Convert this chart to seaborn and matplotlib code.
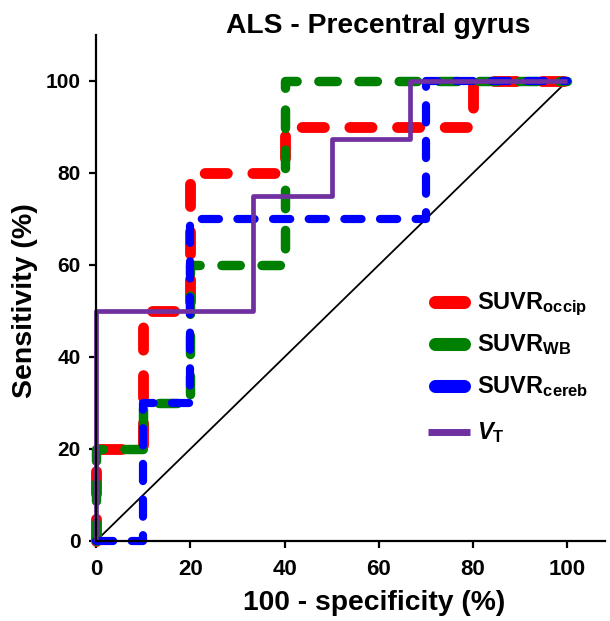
import matplotlib
matplotlib.use("Agg")
import matplotlib.pyplot as plt
import seaborn as sns
from matplotlib.lines import Line2D

# ---- data: ROC operating points (100 - specificity, sensitivity) ----
occip_fpr = [0, 0, 10, 20, 40, 80, 100]
occip_tpr = [0, 20, 50, 80, 90, 100, 100]
wb_fpr = [0, 0, 10, 20, 40, 100]
wb_tpr = [0, 20, 30, 60, 100, 100]
cereb_fpr = [0, 10, 20, 70, 100]
cereb_tpr = [0, 30, 70, 100, 100]
vt_fpr = [0, 0, 33.3, 50, 66.7, 100]
vt_tpr = [0, 50, 75, 87.5, 100, 100]
chance = [0, 100]
ticks = [0, 20, 40, 60, 80, 100]
labels = [r"SUVR$_{\rm occip}$", r"SUVR$_{\rm WB}$", r"SUVR$_{\rm cereb}$", r"$V_{\rm T}$"]
title = "ALS - Precentral gyrus"
xlabel = "100 - specificity (%)"
ylabel = "Sensitivity (%)"

sns.set_style("ticks")
plt.rcParams["font.family"] = ["Liberation Sans", "DejaVu Sans"]
plt.rcParams["font.weight"] = "bold"
plt.rcParams["mathtext.fontset"] = "custom"
plt.rcParams["mathtext.rm"] = "Liberation Sans:bold"
plt.rcParams["mathtext.bf"] = "Liberation Sans:bold"
plt.rcParams["mathtext.it"] = "Liberation Sans:bold:italic"
for k in ["text.color", "axes.labelcolor", "xtick.color", "ytick.color", "axes.edgecolor"]:
    plt.rcParams[k] = "black"

W, H = 610, 621
fig = plt.figure(figsize=(W / 100, H / 100), dpi=100)
ax = fig.add_axes([96 / W, 80 / H, (605 - 96) / W, (541 - 35) / H])

red, green, blue, purple = "#FF0000", "#008000", "#0000FF", "#7030A0"

sns.lineplot(x=chance, y=chance, color="black", lw=1.3, ax=ax, sort=False, estimator=None)

common = dict(ax=ax, sort=False, estimator=None, drawstyle="steps-post", clip_on=False)
sns.lineplot(x=occip_fpr, y=occip_tpr, color=red, lw=7.8, linestyle=(0, (2.05, 2.35)),
             dash_capstyle="round", **common)
sns.lineplot(x=wb_fpr, y=wb_tpr, color=green, lw=6.8, linestyle=(0, (1.95, 2.3)),
             dash_capstyle="round", **common)
sns.lineplot(x=cereb_fpr, y=cereb_tpr, color=blue, lw=5.9, linestyle=(0, (2.1, 2.25)),
             dash_capstyle="round", **common)
sns.lineplot(x=vt_fpr, y=vt_tpr, color=purple, lw=3.4, solid_capstyle="butt", **common)

ax.set_xlim(0, 108)
ax.set_ylim(0, 110)
ax.set_xticks(ticks)
ax.set_yticks(ticks)
for s in ["top", "right"]:
    ax.spines[s].set_visible(False)
for s in ["left", "bottom"]:
    ax.spines[s].set_linewidth(1.6)
ax.tick_params(axis="both", direction="out", length=5, width=1.6, color="black")
ax.tick_params(axis="x", labelsize=16, pad=8)
ax.tick_params(axis="y", labelsize=15, pad=6)
for t in ax.get_xticklabels() + ax.get_yticklabels():
    t.set_fontweight("bold")

fig.text(374 / W, 1 - 610 / H, xlabel, ha="center", va="baseline", fontsize=20.3, fontweight="bold")
fig.text(25 / W, 1 - 301 / H, ylabel, ha="center", va="center", rotation=90,
         fontsize=20.5, fontweight="bold")
fig.text(378 / W, 1 - 33 / H, title, ha="center", va="baseline", fontsize=20.3, fontweight="bold")

# ---- legend (solid swatches, as in the reference) ----
leg_colors = [red, green, blue, purple]
leg_rows = [302, 344, 386, 432]
leg_lw = [9.4, 9.4, 9.4, 5.0]
for lab, col, yy, lw in zip(labels, leg_colors, leg_rows, leg_lw):
    if lw > 6:
        x0, x1, cap = 428 + 6.5, 470 - 6.5, "round"
    else:
        x0, x1, cap = 428, 470, "butt"
    fig.add_artist(Line2D([x0 / W, x1 / W], [1 - yy / H, 1 - yy / H], color=col, lw=lw,
                          solid_capstyle=cap, transform=fig.transFigure))
    fig.text(477 / W, 1 - (yy + 7.5) / H, lab, ha="left", va="baseline", fontsize=17,
             fontweight="bold")

fig.savefig("out.png", dpi=100)
